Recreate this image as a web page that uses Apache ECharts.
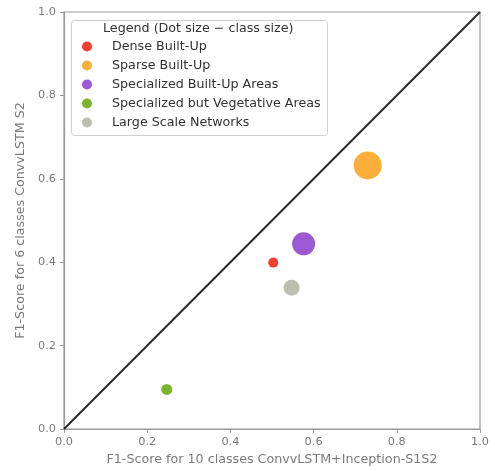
<!DOCTYPE html>
<html><head><meta charset="utf-8">
<script src="https://cdn.jsdelivr.net/npm/echarts@6/dist/echarts.min.js"></script>
<style>html,body{margin:0;padding:0;background:#fff}#c{width:495px;height:471px}</style>
</head><body><div id="c"></div>
<script>
const categories = ['Dense Built-Up','Sparse Built-Up','Specialized Built-Up Areas','Specialized but Vegetative Areas','Large Scale Networks'];
const xValues = [0.503, 0.730, 0.576, 0.247, 0.547];
const yValues = [0.399, 0.632, 0.444, 0.095, 0.339];
const dotSizes = [10, 28, 23, 11, 16];
const colors = ['#f2402f','#fcaf38','#9b5ad4','#7bb52e','#bdbdb1'];
const tickValues = [0.0, 0.2, 0.4, 0.6, 0.8, 1.0];
const diagonal = [[0,0],[1,1]];

const font = 'DejaVu Sans';
const chart = echarts.init(document.getElementById('c'), null, {renderer:'canvas'});
const series = [{
  type:'line', data: diagonal, symbol:'none', silent:true,
  lineStyle:{color:'#2b2b2b', width:2}, z:1
}];
categories.forEach((c,i)=>{
  series.push({
    name:c, type:'scatter', data:[[xValues[i], yValues[i]]],
    symbolSize: dotSizes[i], itemStyle:{color:colors[i], opacity:1}, z:3
  });
});
const axisCommon = {
  type:'value', min:tickValues[0], max:tickValues[tickValues.length-1], interval:0.2,
  axisLine:{show:true, lineStyle:{color:'#9a9a9a', width:1.2}},
  axisTick:{show:true, length:4, lineStyle:{color:'#9a9a9a'}},
  splitLine:{show:false},
  axisLabel:{color:'#7a7a7a', fontFamily:font, fontSize:11.3, margin:8, formatter:v=>v.toFixed(1)},
  nameLocation:'middle',
  nameTextStyle:{color:'#7a7a7a', fontFamily:font, fontSize:12.7}
};
chart.setOption({
  animation:false,
  grid:{left:64, right:15, top:12, bottom:42, show:true, borderColor:'#9a9a9a', borderWidth:1.2},
  xAxis: Object.assign({}, axisCommon, {name:'F1-Score for 10 classes ConvvLSTM+Inception-S1S2', nameGap:24}),
  yAxis: Object.assign({}, axisCommon, {name:'F1-Score for 6 classes ConvvLSTM S2', nameGap:36}),
  graphic:[
    {type:'rect', left:71, top:20, shape:{width:256, height:115, r:3}, style:{fill:'rgba(255,255,255,0.85)', stroke:'#d0d0d0', lineWidth:1}, z:10},
    {type:'text', left:103, top:22, style:{text:'Legend (Dot size \u2212 class size)', fill:'#333', font:'12.7px "DejaVu Sans"'}, z:11}
  ],
  legend:{
    data:categories, orient:'vertical', left:77, top:35,
    itemWidth:20, itemHeight:10, itemGap:6, icon:'circle',
    textStyle:{color:'#333', fontFamily:font, fontSize:12.7, padding:[0,0,0,10]},
    z:12
  },
  series: series
});
</script></body></html>
